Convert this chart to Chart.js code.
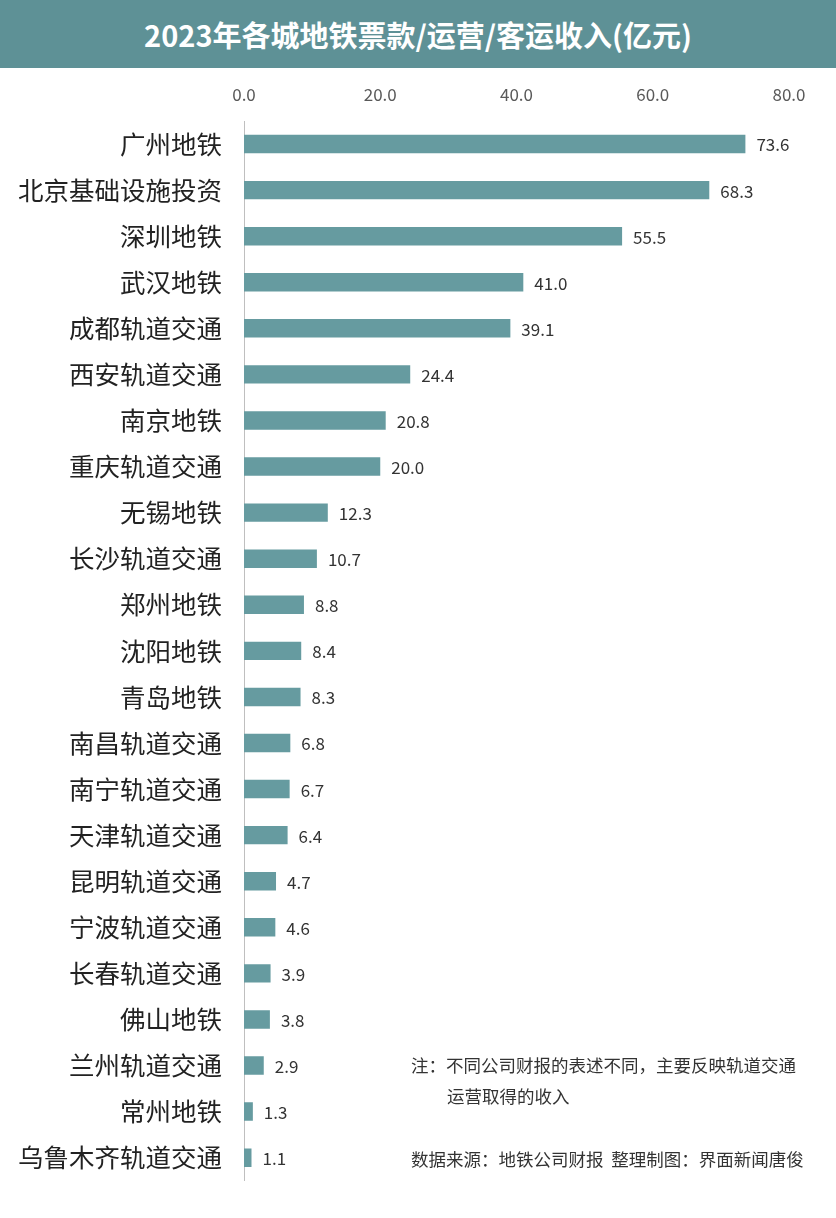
<!DOCTYPE html>
<html><head><meta charset="utf-8">
<script src="https://cdn.jsdelivr.net/npm/chart.js@4"></script>
<style>
body{margin:0;width:836px;height:1218px;background:#fff;font-family:"Noto Sans CJK SC",sans-serif;position:relative;overflow:hidden}
#title{position:absolute;left:0;top:0;width:836px;height:68px;background:#5e9196;color:#fff;font-weight:bold;font-size:29px;line-height:68px;text-align:center}
#wrap{position:absolute;left:0;top:68px;width:836px;height:1150px}
.note{position:absolute;font-size:17.5px;color:#333;white-space:nowrap}
</style></head><body>
<div id="title">2023年各城地铁票款/运营/客运收入(亿元)</div>
<div id="wrap"><canvas id="c"></canvas></div>
<div class="note" style="left:411px;top:1052px">注：不同公司财报的表述不同，主要反映轨道交通</div>
<div class="note" style="left:447px;top:1083px">运营取得的收入</div>
<div class="note" style="left:411px;top:1146px">数据来源：地铁公司财报&nbsp;&nbsp;整理制图：界面新闻唐俊</div>
<script>
const categories=["广州地铁","北京基础设施投资","深圳地铁","武汉地铁","成都轨道交通","西安轨道交通","南京地铁","重庆轨道交通","无锡地铁","长沙轨道交通","郑州地铁","沈阳地铁","青岛地铁","南昌轨道交通","南宁轨道交通","天津轨道交通","昆明轨道交通","宁波轨道交通","长春轨道交通","佛山地铁","兰州轨道交通","常州地铁","乌鲁木齐轨道交通"];
const values=[73.6,68.3,55.5,41.0,39.1,24.4,20.8,20.0,12.3,10.7,8.8,8.4,8.3,6.8,6.7,6.4,4.7,4.6,3.9,3.8,2.9,1.3,1.1];
const tickLabels=["0.0","20.0","40.0","60.0","80.0"];
const labelPlugin={id:'lbl',afterDatasetsDraw(ch){const c=ch.ctx;const m=ch.getDatasetMeta(0);c.save();c.font='17px "Noto Sans CJK SC"';c.fillStyle='#333';c.textBaseline='middle';m.data.forEach((b,i)=>{c.fillText(values[i].toFixed(1),b.x+11,b.y+1);});c.restore();}};
new Chart(document.getElementById('c'),{type:'bar',data:{labels:categories,datasets:[{data:values,backgroundColor:'#669ba0',barPercentage:0.4,categoryPercentage:1}]},
options:{indexAxis:'y',responsive:true,maintainAspectRatio:false,animation:false,
layout:{padding:{left:0,right:47,top:0,bottom:27}},
plugins:{legend:{display:false},tooltip:{enabled:false}},
scales:{x:{position:'top',min:0,max:80,grid:{display:false,drawTicks:false},border:{display:false},
ticks:{stepSize:20,padding:16,color:'#595959',font:{size:17,family:'"Noto Sans CJK SC"'},callback:(v,i)=>tickLabels[i]},
afterFit(s){s.height=53;}},
y:{grid:{display:false,drawTicks:false},border:{display:true,color:'#bfbfbf',width:1},
ticks:{padding:22,color:'#222',font:{size:25.5,family:'"Noto Sans CJK SC"'}},afterFit(s){s.width=244;}}}},
plugins:[labelPlugin]});
</script></body></html>
